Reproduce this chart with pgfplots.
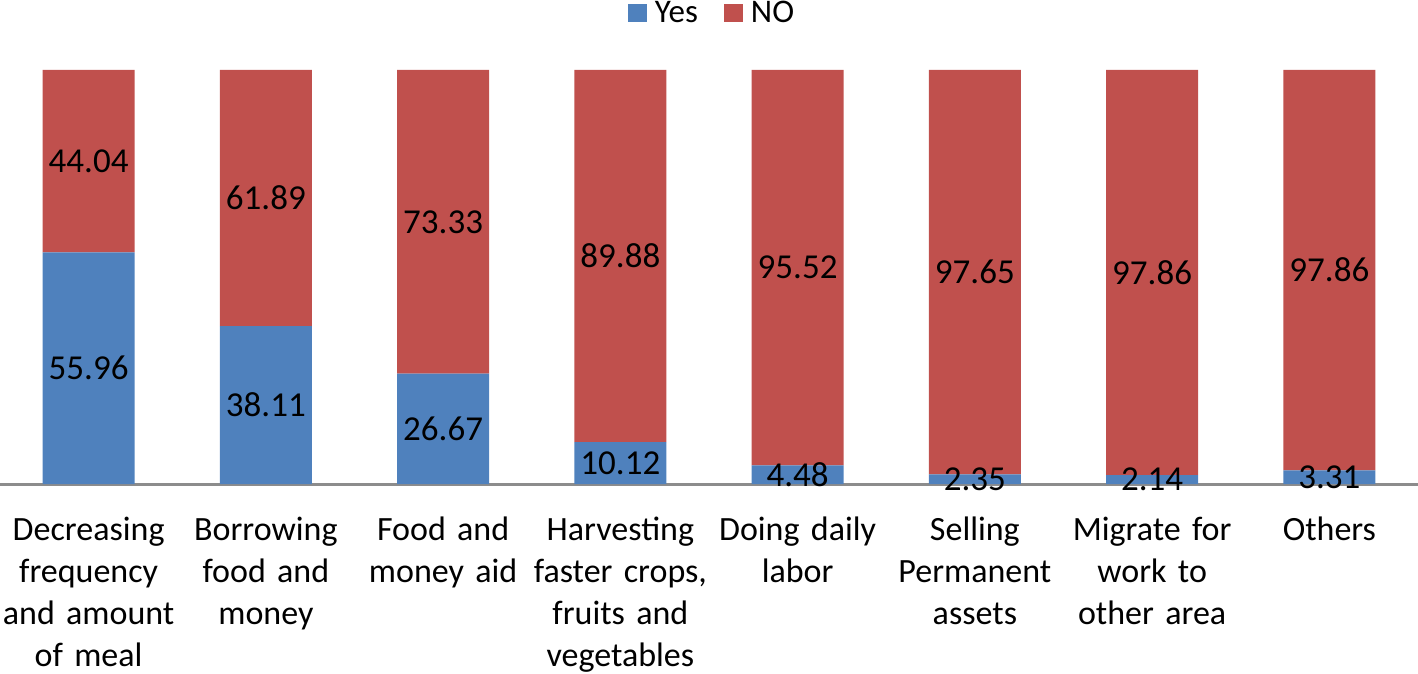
\documentclass[border=0pt]{standalone}
\usepackage{pgfplots}
\pgfplotsset{compat=1.18}
\usepackage{pgfplotstable}
\usepackage{fontspec}
\setmainfont{Carlito}
\definecolor{ybl}{HTML}{4F81BD}
\definecolor{nrd}{HTML}{C0504D}
% bar heights as drawn (100% stacked); labels are the printed values
\pgfplotstableread{
x yes no nobar
0 55.96 44.04 44.04
1 38.11 61.89 61.89
2 26.67 73.33 73.33
3 10.12 89.88 89.88
4 4.48 95.52 95.52
5 2.35 97.65 97.65
6 2.14 97.86 97.86
7 3.31 97.86 96.69
}\data
\begin{document}
\begin{tikzpicture}
\begin{axis}[
  scale only axis, width=709pt, height=207pt,
  xmin=-0.5, xmax=7.5, ymin=0, ymax=100,
  ybar stacked, bar width=46pt,
  axis line style={draw=none},
  ytick=\empty, xtick=data,
  xtick style={draw=none},
  xticklabels={{Decreasing\\frequency\\and amount\\of meal},{Borrowing\\food and\\money},{Food and\\money aid},{Harvesting\\faster crops,\\fruits and\\vegetables},{Doing daily\\labor},{Selling\\Permanent\\assets},{Migrate for\\work to\\other area},{Others}},
  xticklabel style={font=\fontsize{17}{21}\selectfont, align=center, text width=90pt, anchor=north, yshift=-13pt},
  legend columns=2,
  legend style={draw=none, at={(0.5,1)}, anchor=center, xshift=2pt, yshift=28.5pt, font=\fontsize{16.5}{18}\selectfont,
    /tikz/every odd column/.append style={column sep=2pt},
    /tikz/every even column/.append style={column sep=11pt}},
  legend image code/.code={\fill[#1] (0pt,-4.5pt) rectangle (9.5pt,4.5pt);},
  point meta=explicit symbolic,
  nodes near coords,
  every node near coord/.append style={font=\fontsize{17.5}{20}\selectfont, anchor=center, text=black},
  clip=false,
]
\addplot[fill=ybl, draw=none] table[x=x, y=yes, meta=yes]{\data};
\addplot[fill=nrd, draw=none] table[x=x, y=nobar, meta=no]{\data};
\legend{Yes, NO}
\draw[black!45, line width=1.5pt] (rel axis cs:0,0) -- (rel axis cs:1,0);
\coordinate (BL) at (rel axis cs:0,0);
\coordinate (TR) at (rel axis cs:1,1);
\end{axis}
\pgfresetboundingbox
\path[use as bounding box] ([yshift=-95pt]BL) rectangle ([yshift=35pt]TR);
\end{tikzpicture}
\end{document}
